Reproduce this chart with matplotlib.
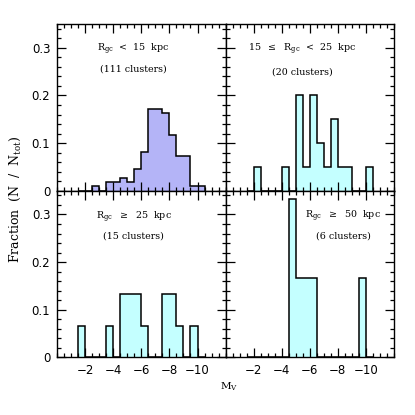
import matplotlib
matplotlib.use("Agg")
import matplotlib.pyplot as plt
import numpy as np
from matplotlib.ticker import MultipleLocator, FuncFormatter

# Bin edges in M_V (0.5 mag bins)
bin_edges = [-1.5, -2.0, -2.5, -3.0, -3.5, -4.0, -4.5, -5.0, -5.5, -6.0,
             -6.5, -7.0, -7.5, -8.0, -8.5, -9.0, -9.5, -10.0, -10.5]

# Cluster counts per bin
counts_lt15 = [0, 0, 1, 0, 2, 2, 3, 2, 5, 9, 19, 19, 18, 13, 8, 8, 1, 1]
counts_15_25 = [0, 1, 0, 0, 0, 1, 0, 4, 1, 4, 2, 1, 3, 1, 1, 0, 0, 1]
counts_ge25 = [1, 0, 0, 0, 1, 0, 2, 2, 2, 1, 0, 0, 2, 2, 1, 0, 1, 0]
counts_ge50 = [0, 0, 0, 0, 0, 0, 2, 1, 1, 1, 0, 0, 0, 0, 0, 0, 1, 0]

labels = [r"R$_{\rm gc}$  <  15  kpc",
          r"15  $\leq$  R$_{\rm gc}$  <  25  kpc",
          r"R$_{\rm gc}$  $\geq$  25  kpc",
          r"R$_{\rm gc}$  $\geq$  50  kpc"]
sublabels = ["(111 clusters)", "(20 clusters)", "(15 clusters)", "(6 clusters)"]

xticks = [-2, -4, -6, -8, -10]
yticks = [0, 0.1, 0.2, 0.3]

plt.rcParams['mathtext.fontset'] = 'dejavuserif'

fig, axes = plt.subplots(2, 2, figsize=(4.15, 4.15), dpi=100)
fig.subplots_adjust(left=0.138, right=0.949, top=0.942, bottom=0.139,
                    wspace=0, hspace=0)

all_counts = [counts_lt15, counts_15_25, counts_ge25, counts_ge50]
fills = ["#b4b4f7", "#c4ffff", "#c4ffff", "#c4ffff"]
text_pos = [(0.45, 0.85, 0.73), (0.455, 0.85, 0.715),
            (0.455, 0.84, 0.725), (0.70, 0.845, 0.727)]

for i, ax in enumerate(axes.flat):
    c = np.array(all_counts[i], dtype=float)
    frac = c / c.sum()
    ax.stairs(frac, bin_edges, fill=True, color=fills[i], zorder=1)
    ax.stairs(frac, bin_edges, fill=False, color="black", lw=1.1,
              baseline=0, zorder=2)
    ax.set_xlim(0, -12)
    ax.set_ylim(0, 0.35)
    ax.xaxis.set_major_locator(plt.FixedLocator(xticks))
    ax.xaxis.set_minor_locator(MultipleLocator(0.5))
    ax.yaxis.set_major_locator(plt.FixedLocator(yticks))
    ax.yaxis.set_minor_locator(MultipleLocator(0.02))
    ax.tick_params(which="both", direction="in", top=True, right=True,
                   width=0.9, labelsize=8.5)
    ax.tick_params(which="major", length=6.5, pad=5)
    ax.tick_params(which="minor", length=3)
    for s in ax.spines.values():
        s.set_linewidth(1.0)
    ax.xaxis.set_major_formatter(FuncFormatter(lambda v, p: "\u2212%d" % abs(v)))
    ax.yaxis.set_major_formatter(FuncFormatter(lambda v, p: "0" if v == 0 else "%.1f" % v))
    if i in (0, 1):
        ax.tick_params(labelbottom=False)
    if i in (1, 3):
        ax.tick_params(labelleft=False)
    tx, ty1, ty2 = text_pos[i]
    ax.text(tx, ty1, labels[i], transform=ax.transAxes, ha="center",
            va="center", fontsize=6.8, family="DejaVu Serif")
    ax.text(tx, ty2, sublabels[i], transform=ax.transAxes, ha="center",
            va="center", fontsize=6.8, family="DejaVu Serif")

fig.text(0.036, 0.52, r"Fraction  (N  /  N$_{\rm tot}$)", rotation=90,
         ha="center", va="center", fontsize=9, family="DejaVu Serif")
fig.text(0.553, 0.068, r"M$_{\rm V}$", ha="center", va="center",
         fontsize=7.5, family="DejaVu Serif")

fig.savefig("out.png", dpi=100)
